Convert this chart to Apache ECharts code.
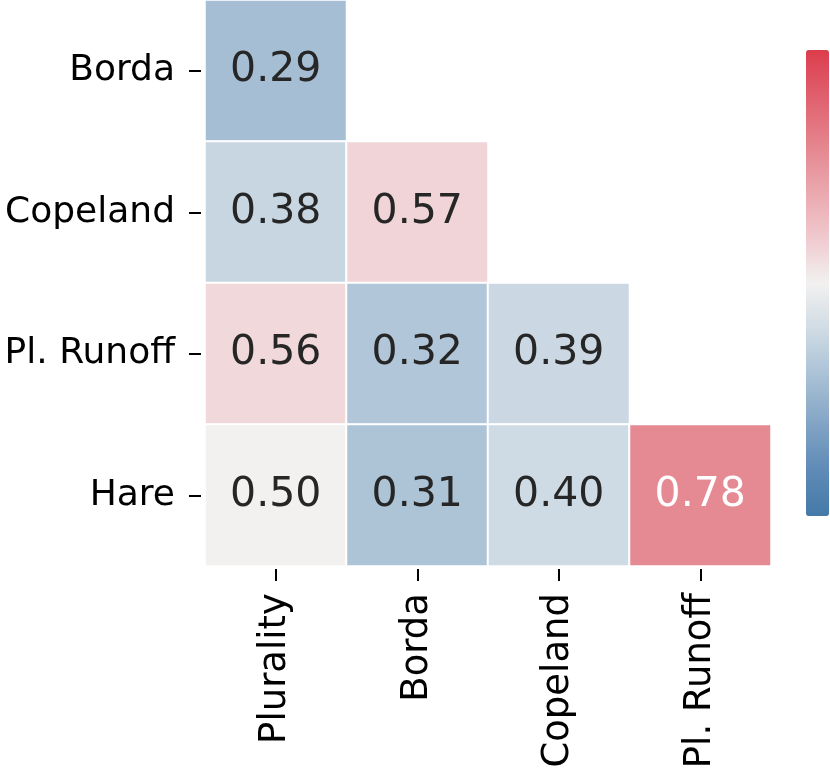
<!DOCTYPE html>
<html>
<head>
<meta charset="utf-8">
<script src="https://cdn.jsdelivr.net/npm/echarts@6/dist/echarts.min.js"></script>
<style>html,body{margin:0;padding:0;background:#fff;}#c{width:830px;height:772px;}</style>
</head>
<body>
<div id="c"></div>
<script>
var xCategories = ['Plurality', 'Borda', 'Copeland', 'Pl. Runoff'];
var yCategories = ['Borda', 'Copeland', 'Pl. Runoff', 'Hare'];
// lower-triangle values, row by row (row i has i+1 entries)
var rowBorda = [0.29];
var rowCopeland = [0.38, 0.57];
var rowRunoff = [0.56, 0.32, 0.39];
var rowHare = [0.50, 0.31, 0.40, 0.78];
var rows = [rowBorda, rowCopeland, rowRunoff, rowHare];
var colorStops = ['#4479a8','#5f8bb6','#83a5c5','#a9c1d5','#cfdbe4','#f2f1f0','#efc8cd','#eaa6ad','#e4838c','#e0606e','#dc3d4c'];

var data = [];
rows.forEach(function (r, yi) {
  r.forEach(function (v, xi) {
    var o = { value: [xi, yi, v] };
    if (v > 0.7 || v < 0.15) o.label = { color: '#fff' };
    data.push(o);
  });
});

var chart = echarts.init(document.getElementById('c'));
chart.setOption({
  animation: false,
  textStyle: { fontFamily: 'DejaVu Sans' },
  grid: { left: 205, top: 0, width: 566, height: 566 },
  xAxis: {
    type: 'category', data: xCategories, position: 'bottom',
    axisLine: { show: false }, splitLine: { show: false },
    axisTick: { show: true, length: 12, alignWithLabel: true, lineStyle: { color: '#000', width: 2 } },
    offset: 3,
    axisLabel: { rotate: 90, fontSize: 37, color: '#000', margin: 24, fontFamily: 'DejaVu Sans' }
  },
  yAxis: {
    type: 'category', data: yCategories, inverse: true,
    axisLine: { show: false }, splitLine: { show: false },
    axisTick: { show: true, length: 12, alignWithLabel: true, lineStyle: { color: '#000', width: 2 } },
    offset: 4,
    axisLabel: { fontSize: 36, color: '#000', margin: 26, fontFamily: 'DejaVu Sans' }
  },
  visualMap: {
    type: 'continuous', min: 0, max: 1, calculable: false,
    orient: 'vertical', left: 806, top: 50, padding: 0, itemWidth: 23, itemHeight: 466,
    text: null, showLabel: false,
    inRange: { color: colorStops },
    textStyle: { color: 'transparent' }
  },
  series: [{
    type: 'heatmap', data: data,
    itemStyle: { borderColor: '#fff', borderWidth: 2 },
    label: {
      show: true, fontSize: 41, fontFamily: 'DejaVu Sans',
      formatter: function (p) { return p.value[2].toFixed(2); },
      color: '#262626'
    },
    emphasis: { disabled: true }
  }]
});
</script>
</body>
</html>
